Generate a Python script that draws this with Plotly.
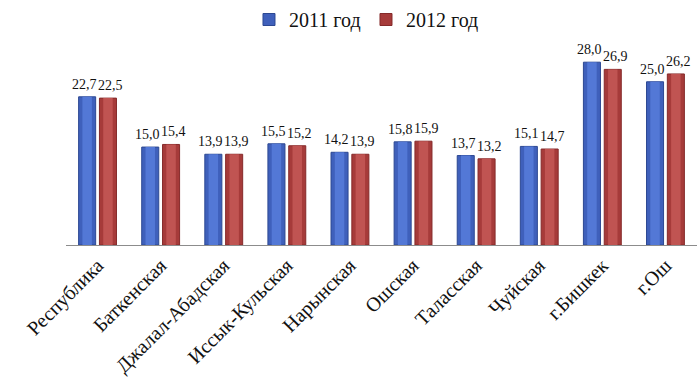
import plotly.graph_objects as go

regions = ["Республика", "Баткенская", "Джалал-Абадская", "Иссык-Кульская",
           "Нарынская", "Ошская", "Таласская", "Чуйская", "г.Бишкек", "г.Ош"]
values_2011 = [22.7, 15.0, 13.9, 15.5, 14.2, 15.8, 13.7, 15.1, 28.0, 25.0]
values_2012 = [22.5, 15.4, 13.9, 15.2, 13.9, 15.9, 13.2, 14.7, 26.9, 26.2]
series_names = ["2011 год", "2012 год"]

FONT = "Liberation Serif"
BAR_W = 0.27      # bar width in category units
INNER_W = 0.15    # lighter core of each bar, gives a rounded look


def comma(v):
    return f"{v:.1f}".replace(".", ",")


styles = [
    # name, values, centre offset, label shift (px), edge, body, core colours
    (series_names[0], values_2011, -0.165, -13, "#2c4892", "#3f60bb", "#5378d6"),
    (series_names[1], values_2012, 0.165, 13, "#852a2a", "#a63b3a", "#c05452"),
]

fig = go.Figure()
annotations = []
for name, vals, centre, shift, edge, body, core in styles:
    fig.add_trace(go.Bar(
        x=regions, y=vals, name=name,
        width=BAR_W, offset=centre - BAR_W / 2,
        marker=dict(color=body, line=dict(color=edge, width=1)),
    ))
    fig.add_trace(go.Bar(
        x=regions, y=vals, name=name, showlegend=False, hoverinfo="skip",
        width=INNER_W, offset=centre - INNER_W / 2,
        marker=dict(color=core, line=dict(width=0)),
    ))
    for cat, v in zip(regions, vals):
        annotations.append(dict(
            x=cat, y=v, text=comma(v), showarrow=False,
            xanchor="center", yanchor="bottom", xshift=shift, yshift=3,
            font=dict(family=FONT, size=14, color="#111111"),
        ))

fig.update_layout(
    width=700, height=392,
    margin=dict(l=66, r=3, t=40, b=147, autoexpand=False),
    paper_bgcolor="#ffffff", plot_bgcolor="#ffffff",
    barmode="overlay",
    font=dict(family=FONT, color="#111111"),
    annotations=annotations,
    legend=dict(orientation="h", x=0.29, xanchor="left", y=1.1, yanchor="middle",
                font=dict(family=FONT, size=20), itemwidth=30,
                entrywidth=72, entrywidthmode="pixels", traceorder="normal"),
    xaxis=dict(showline=True, linecolor="#8c8c8c", linewidth=1, ticks="",
               tickangle=-45, tickfont=dict(family=FONT, size=20)),
    yaxis=dict(range=[0, 31.4], visible=False),
)

fig.write_html("out.html")
